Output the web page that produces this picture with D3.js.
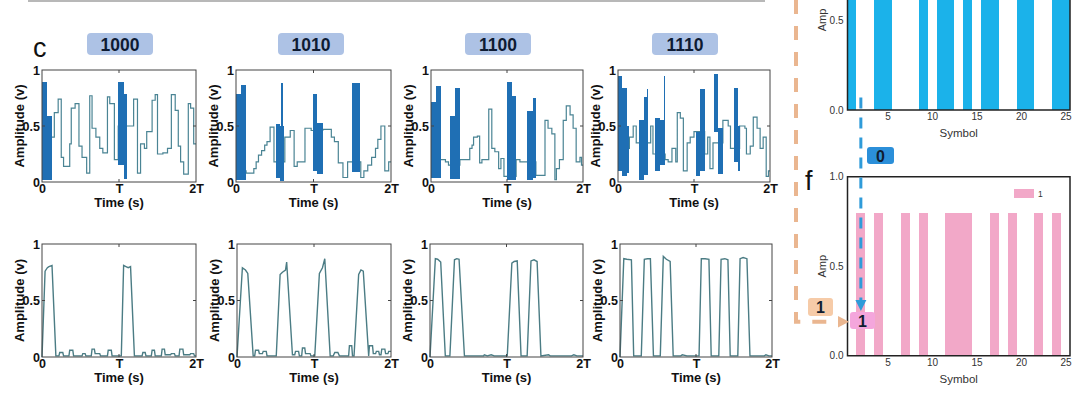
<!DOCTYPE html>
<html><head><meta charset="utf-8">
<script src="https://cdn.jsdelivr.net/npm/d3@7"></script>
<style>body{margin:0;background:#fff}svg{display:block}</style>
</head><body>
<script>
// ---------- data ----------
const codes = ["1000", "1010", "1100", "1110"];
const timeTicks = [0, 1, 2];
const timeTickLabels = ["0", "T", "2T"];
const ampTicks = [0, 0.5, 1];
const ampTickLabels = ["0", "0.5", "1"];

// top row: step traces [t (in T), amplitude]
const steps1000 = [[0,0.40],[0.13,0.40],[0.16,0.62],[0.21,0.74],[0.25,0.22],[0.28,0.14],[0.36,0.34],[0.38,0.66],[0.43,0.70],[0.48,0.32],[0.52,0.22],[0.58,0.08],[0.62,0.77],[0.65,0.48],[0.70,0.40],[0.75,0.30],[0.79,0.26],[0.85,0.76],[0.88,0.70],[0.94,0.20],[0.99,0.50],[1.12,0.50],[1.19,0.74],[1.24,0.08],[1.28,0.34],[1.33,0.30],[1.36,0.45],[1.43,0.73],[1.47,0.78],[1.50,0.25],[1.57,0.26],[1.63,0.30],[1.68,0.78],[1.73,0.64],[1.77,0.32],[1.80,0.18],[1.84,0.07],[1.90,0.70],[1.93,0.66],[1.97,0.34],[2.0,0.34]];
const steps1010 = [[0,0.10],[0.13,0.08],[0.23,0.12],[0.26,0.18],[0.29,0.24],[0.33,0.28],[0.37,0.33],[0.40,0.36],[0.44,0.49],[0.49,0.18],[0.51,0.18],[0.63,0.40],[0.70,0.46],[0.75,0.14],[0.79,0.18],[0.89,0.48],[0.97,0.46],[1.12,0.47],[1.18,0.47],[1.23,0.40],[1.27,0.36],[1.32,0.17],[1.38,0.04],[1.44,0.18],[1.50,0.18],[1.61,0.04],[1.65,0.10],[1.70,0.15],[1.75,0.22],[1.80,0.30],[1.83,0.38],[1.87,0.50],[1.92,0.10],[1.97,0.18],[2,0.18]];
const steps1100 = [[0,0.20],[0.13,0.20],[0.19,0.18],[0.23,0.15],[0.25,0.15],[0.38,0.20],[0.46,0.20],[0.51,0.30],[0.54,0.33],[0.56,0.40],[0.61,0.41],[0.64,0.17],[0.67,0.20],[0.73,0.20],[0.76,0.65],[0.80,0.30],[0.84,0.27],[0.89,0.12],[0.92,0.21],[0.96,0.05],[1.0,0.05],[1.12,0.20],[1.17,0.18],[1.26,0.18],[1.38,0.06],[1.50,0.55],[1.54,0.48],[1.59,0.43],[1.63,0.02],[1.65,0.12],[1.69,0.20],[1.74,0.55],[1.78,0.68],[1.83,0.60],[1.87,0.48],[1.91,0.18],[1.96,0.22],[1.98,0.15],[2,0.15]];
const steps1110 = [[0,0.30],[0.15,0.40],[0.20,0.50],[0.24,0.35],[0.28,0.35],[0.43,0.50],[0.46,0.25],[0.49,0.25],[0.62,0.20],[0.66,0.18],[0.71,0.30],[0.76,0.18],[0.78,0.62],[0.82,0.57],[0.86,0.10],[0.91,0.35],[0.95,0.40],[1.0,0.45],[1.14,0.25],[1.18,0.40],[1.21,0.12],[1.25,0.35],[1.38,0.55],[1.41,0.55],[1.45,0.50],[1.48,0.30],[1.52,0.30],[1.60,0.50],[1.63,0.50],[1.67,0.48],[1.69,0.25],[1.74,0.32],[1.78,0.58],[1.83,0.48],[1.87,0.30],[1.91,0.40],[1.95,0.05],[1.98,0.10],[2,0.10]];

// top row: dense oscillation bursts [t0, t1, low, high]
const bursts1000 = [[0,0.064,0.02,0.89],[0.064,0.133,0.02,0.59],[0.99,1.06,0.15,0.89],[1.06,1.11,0.03,0.79]];
const bursts1010 = [[0,0.07,0.02,0.79],[0.07,0.13,0.02,0.87],[0.51,0.57,0.04,0.52],[0.57,0.62,0.01,0.50],[0.585,0.605,0.01,0.88],[0.99,1.04,0.10,0.79],[1.04,1.12,0.07,0.53],[1.50,1.60,0.09,0.88]];
const bursts1100 = [[0,0.07,0.04,0.71],[0.07,0.13,0.04,0.86],[0.25,0.32,0.03,0.59],[0.32,0.38,0.03,0.84],[1.0,1.07,0.02,0.89],[1.07,1.12,0.02,0.77],[1.26,1.34,0.02,0.63],[1.34,1.38,0.04,0.75]];
const bursts1110 = [[0,0.05,0.10,0.95],[0.05,0.12,0.05,0.84],[0.12,0.15,0.08,0.50],[0.28,0.34,0.02,0.55],[0.34,0.40,0.06,0.76],[0.38,0.40,0.06,0.83],[0.49,0.55,0.10,0.57],[0.55,0.62,0.15,0.55],[0.605,0.62,0.15,0.95],[1.02,1.08,0.05,0.45],[1.08,1.14,0.10,0.83],[1.26,1.32,0.45,0.96],[1.32,1.38,0.07,0.48],[1.52,1.58,0.18,0.84],[1.58,1.61,0.10,0.50]];

// bottom row: recovered pulses [t, amplitude]
const pulses1000 = [[0,0],[0.04,0.76],[0.07,0.79],[0.09,0.80],[0.13,0.81],[0.18,0.01],[0.22,0.01],[0.23,0.04],[0.27,0.04],[0.28,0.01],[0.35,0.01],[0.36,0.06],[0.40,0.06],[0.41,0.01],[0.52,0.01],[0.53,0.03],[0.56,0.03],[0.57,0.01],[0.64,0.01],[0.65,0.07],[0.68,0.07],[0.69,0.03],[0.75,0.03],[0.76,0.01],[0.85,0.01],[0.86,0.06],[0.90,0.06],[0.91,0.01],[1.03,0.01],[1.06,0.81],[1.09,0.80],[1.12,0.79],[1.15,0.80],[1.20,0.01],[1.30,0.01],[1.31,0.04],[1.34,0.04],[1.35,0.01],[1.42,0.01],[1.43,0.06],[1.46,0.06],[1.47,0.01],[1.55,0.01],[1.56,0.07],[1.59,0.07],[1.60,0.02],[1.67,0.02],[1.68,0.03],[1.72,0.03],[1.73,0.01],[1.78,0.01],[1.79,0.07],[1.83,0.07],[1.84,0.02],[1.92,0.02],[1.93,0.03],[1.97,0.03],[1.98,0.01],[2,0.01]];
const pulses1010 = [[0,0],[0.07,0.79],[0.11,0.77],[0.14,0.74],[0.21,0.01],[0.23,0.01],[0.24,0.06],[0.28,0.06],[0.29,0.03],[0.33,0.03],[0.34,0.05],[0.38,0.05],[0.39,0.01],[0.51,0.01],[0.56,0.73],[0.59,0.75],[0.63,0.77],[0.645,0.84],[0.72,0.02],[0.75,0.02],[0.76,0.05],[0.80,0.05],[0.81,0.01],[0.84,0.01],[0.85,0.08],[0.88,0.08],[0.89,0.03],[0.95,0.03],[0.96,0.01],[1.01,0.01],[1.07,0.74],[1.11,0.79],[1.14,0.87],[1.21,0.01],[1.25,0.01],[1.27,0.04],[1.31,0.04],[1.33,0.01],[1.45,0.01],[1.46,0.10],[1.49,0.10],[1.50,0.01],[1.52,0.01],[1.58,0.73],[1.61,0.77],[1.64,0.76],[1.71,0.01],[1.72,0.10],[1.76,0.10],[1.77,0.03],[1.80,0.03],[1.81,0.05],[1.84,0.05],[1.85,0.02],[1.87,0.02],[1.88,0.07],[1.92,0.07],[1.93,0.03],[1.96,0.03],[1.97,0.05],[2,0.05]];
const pulses1100 = [[0,0],[0.07,0.87],[0.10,0.865],[0.14,0.84],[0.20,0.01],[0.26,0.01],[0.32,0.86],[0.35,0.87],[0.38,0.865],[0.45,0.01],[0.70,0.01],[0.71,0.02],[0.75,0.01],[0.80,0.02],[0.84,0.01],[1.01,0.01],[1.07,0.83],[1.10,0.845],[1.14,0.85],[1.19,0.01],[1.27,0.01],[1.32,0.85],[1.36,0.86],[1.40,0.845],[1.45,0.01],[1.55,0.02],[1.57,0.01],[1.85,0.01],[1.88,0.02],[1.92,0.01],[2,0.01]];
const pulses1110 = [[0,0],[0.05,0.87],[0.09,0.865],[0.15,0.86],[0.18,0.01],[0.28,0.01],[0.32,0.865],[0.36,0.87],[0.40,0.87],[0.44,0.01],[0.53,0.01],[0.57,0.89],[0.61,0.865],[0.66,0.845],[0.70,0.01],[0.80,0.01],[0.82,0.02],[0.88,0.01],[1.04,0.01],[1.07,0.87],[1.12,0.87],[1.17,0.865],[1.20,0.01],[1.30,0.01],[1.33,0.865],[1.38,0.87],[1.42,0.86],[1.45,0.01],[1.55,0.01],[1.58,0.87],[1.62,0.88],[1.67,0.87],[1.71,0.01],[1.90,0.01],[1.92,0.02],[1.96,0.01],[2,0.01]];

// right panels: symbol amplitude
const symbols = [1,2,3,4,5,6,7,8,9,10,11,12,13,14,15,16,17,18,19,20,21,22,23,24,25];
const ampE = [0.8,0,0,0.8,0.8,0,0,0,0.8,0,0.8,0.8,0,0.8,0,0.8,0.8,0,0,0.8,0.8,0,0,0.8,0.8];
const ampF = [0,0.8,0,0.8,0,0,0.8,0,0.8,0,0,0.8,0.8,0.8,0,0,0.8,0,0.8,0,0,0.8,0,0.8,0];
const symbolTicks = [5, 10, 15, 20, 25];
const ampTicksE = [0, 0.5];
const ampTicksF = [0, 0.5, 1.0];

// ---------- drawing ----------
const FONT = "'Liberation Sans', Arial, sans-serif";
const svg = d3.select("body").append("svg").attr("width", 1080).attr("height", 393)
  .style("font-family", FONT);
svg.append("rect").attr("width", 1080).attr("height", 393).attr("fill", "#fff");

// cropped rule at the very top
svg.append("line").attr("x1", 28).attr("x2", 765).attr("y1", 1).attr("y2", 1)
  .attr("stroke", "#b8b8b8").attr("stroke-width", 2);

svg.append("text").attr("x", 33).attr("y", 57).attr("font-size", 27).attr("fill", "#111").text("c");

const topSteps = [steps1000, steps1010, steps1100, steps1110];
const topBursts = [bursts1000, bursts1010, bursts1100, bursts1110];
const botPulses = [pulses1000, pulses1010, pulses1100, pulses1110];
const topX = [[42,196],[236,391],[431,583],[618,770]];
const botX = [[42,196],[237,391],[430,583],[620,772]];
const boxCx = [120, 311, 498, 685];

codes.forEach((c, i) => {
  const g = svg.append("g");
  g.append("rect").attr("x", boxCx[i] - 33).attr("y", 33).attr("width", 66).attr("height", 22)
    .attr("rx", 4).attr("fill", "#adc2e5");
  g.append("text").attr("x", boxCx[i]).attr("y", 44.5).attr("text-anchor", "middle")
    .attr("dominant-baseline", "central").attr("font-size", 17.5).attr("font-weight", "bold")
    .attr("fill", "#0e1b33").text(c);
});

function panel(xr, yr, lineData, bursts, stepped, lineColor) {
  const x = d3.scaleLinear().domain([0, 2]).range(xr);
  const y = d3.scaleLinear().domain([0, 1]).range([yr[1], yr[0]]);
  const g = svg.append("g");
  const line = d3.line().x(d => x(d[0])).y(d => y(d[1]))
    .curve(stepped ? d3.curveStepAfter : d3.curveLinear);
  g.append("path").datum(lineData).attr("d", line).attr("fill", "none")
    .attr("stroke", lineColor).attr("stroke-width", stepped ? 1.2 : 1.4);
  if (bursts) {
    g.selectAll("rect.b").data(bursts).join("rect").attr("class", "b")
      .attr("x", d => x(d[0])).attr("width", d => x(d[1]) - x(d[0]))
      .attr("y", d => y(d[3])).attr("height", d => y(d[2]) - y(d[3]))
      .attr("fill", "#1f6fb4").attr("shape-rendering", "crispEdges");
  }
  // frame
  g.append("rect").attr("x", xr[0]).attr("y", yr[0]).attr("width", xr[1] - xr[0])
    .attr("height", yr[1] - yr[0]).attr("fill", "none").attr("stroke", "#444").attr("stroke-width", 1);
  // inner ticks
  const tk = [[x(1), yr[1], x(1), yr[1] - 3], [x(1), yr[0], x(1), yr[0] + 3],
              [xr[0], y(0.5), xr[0] + 3, y(0.5)], [xr[1], y(0.5), xr[1] - 3, y(0.5)]];
  g.selectAll("line.tk").data(tk).join("line").attr("class", "tk")
    .attr("x1", d => d[0]).attr("y1", d => d[1]).attr("x2", d => d[2]).attr("y2", d => d[3])
    .attr("stroke", "#444").attr("stroke-width", 1);
  // tick labels
  const ya = g.append("g").attr("transform", `translate(${xr[0]},0)`)
    .call(d3.axisLeft(y).tickValues(ampTicks).tickSize(0).tickPadding(2)
      .tickFormat((d, k) => ampTickLabels[k]));
  const xa = g.append("g").attr("transform", `translate(0,${yr[1]})`)
    .call(d3.axisBottom(x).tickValues(timeTicks).tickSize(0).tickPadding(2)
      .tickFormat((d, k) => timeTickLabels[k]));
  [ya, xa].forEach(a => {
    a.select(".domain").remove();
    a.attr("font-family", FONT).attr("font-size", 12.5).attr("font-weight", "bold");
    a.selectAll("text").attr("fill", "#111");
  });
  g.append("text").attr("x", (xr[0] + xr[1]) / 2).attr("y", yr[1] + 24.5).attr("text-anchor", "middle")
    .attr("font-size", 13).attr("font-weight", "bold").attr("fill", "#111").text("Time (s)");
  g.append("text").attr("transform", `translate(${xr[0] - 23},${(yr[0] + yr[1]) / 2}) rotate(-90)`)
    .attr("text-anchor", "middle").attr("dominant-baseline", "central")
    .attr("font-size", 13).attr("font-weight", "bold").attr("fill", "#111").text("Amplitude (v)");
}

codes.forEach((c, i) => {
  panel(topX[i], [70, 182], topSteps[i], topBursts[i], true, "#4a8494");
  panel(botX[i], [244, 357], botPulses[i], null, false, "#4b7c84");
});

// ---------- right side ----------
const xs = d3.scaleLinear().domain([0.5, 25.5]).range([847.5, 1070]);
const yE = d3.scaleLinear().domain([0, 1]).range([110, -70]);
const yF = d3.scaleLinear().domain([0, 1]).range([355.7, 176.7]);

function symPanel(yS, amps, color, full, yTicks) {
  const g = svg.append("g");
  g.selectAll("rect.bar").data(symbols).join("rect").attr("class", "bar")
    .attr("x", d => xs(d - 0.5)).attr("width", d => xs(d + 0.5) - xs(d - 0.5))
    .attr("y", (d, k) => yS(amps[k])).attr("height", (d, k) => yS(0) - yS(amps[k]))
    .attr("fill", color).attr("shape-rendering", "crispEdges");
  const y0 = yS(0), y1 = yS(1);
  g.append("path").attr("d", full
      ? `M${xs(0.5)},${y1}H${xs(25.5)}V${y0}H${xs(0.5)}Z`
      : `M${xs(0.5)},${y1}V${y0}H${xs(25.5)}V${y1}`)
    .attr("fill", "none").attr("stroke", "#222").attr("stroke-width", 1.5);
  const xa = g.append("g").attr("transform", `translate(0,${y0})`)
    .call(d3.axisBottom(xs).tickValues(symbolTicks).tickSize(0).tickPadding(3));
  const ya = g.append("g").attr("transform", `translate(${xs(0.5)},0)`)
    .call(d3.axisLeft(yS).tickValues(yTicks).tickSize(0).tickPadding(4).tickFormat(d3.format(".1f")));
  [xa, ya].forEach(a => {
    a.select(".domain").remove();
    a.attr("font-family", FONT).attr("font-size", 10);
    a.selectAll("text").attr("fill", "#333");
  });
  g.append("text").attr("x", (xs(0.5) + xs(25.5)) / 2).attr("y", y0 + 27).attr("text-anchor", "middle")
    .attr("font-size", 11.5).attr("fill", "#333").text("Symbol");
  g.append("text").attr("transform", `translate(822,${yS(0.5)}) rotate(-90)`)
    .attr("text-anchor", "middle").attr("dominant-baseline", "central")
    .attr("font-size", 11).attr("fill", "#333").text("Amp");
}
symPanel(yE, ampE, "#1bb2ea", false, ampTicksE);
symPanel(yF, ampF, "#f2a8c8", true, ampTicksF);

// legend in f
svg.append("rect").attr("x", 1014).attr("y", 189).attr("width", 20).attr("height", 9).attr("fill", "#f2a8c8");
svg.append("text").attr("x", 1038).attr("y", 197).attr("font-size", 8.5).attr("fill", "#333").text("1");

svg.append("text").attr("x", 805).attr("y", 190).attr("font-size", 27).attr("fill", "#111").text("f");

// orange dashed connector
svg.append("path").attr("d", "M796,0V321.7H840").attr("fill", "none")
  .attr("stroke", "#eab690").attr("stroke-width", 4).attr("stroke-dasharray", "14,12");
svg.append("path").attr("d", "M838,316L849,321.7L838,327.4Z").attr("fill", "#eab690");

// blue dashed connector at symbol 2
const xS2 = xs(2);
svg.append("path").attr("d", `M${xS2},${yE(0.07)}V301`).attr("fill", "none")
  .attr("stroke", "#2f9bd9").attr("stroke-width", 3).attr("stroke-dasharray", "11,9");
svg.append("path").attr("d", `M${xS2 - 5.5},300L${xS2 + 5.5},300L${xS2},311Z`).attr("fill", "#2f9bd9");

// label boxes
function labelBox(x, y, w, h, fill, txt) {
  svg.append("rect").attr("x", x).attr("y", y).attr("width", w).attr("height", h).attr("rx", 3).attr("fill", fill);
  svg.append("text").attr("x", x + w / 2).attr("y", y + h / 2 + 0.5).attr("text-anchor", "middle")
    .attr("dominant-baseline", "central").attr("font-size", 16).attr("font-weight", "bold")
    .attr("fill", "#101c30").text(txt);
}
labelBox(867, 147, 27, 17, "#2b8fd9", "0");
labelBox(808, 298, 25, 18, "#f6cba8", "1");
labelBox(850, 312, 25, 17, "#f4a6dc", "1");
</script>
</body></html>
